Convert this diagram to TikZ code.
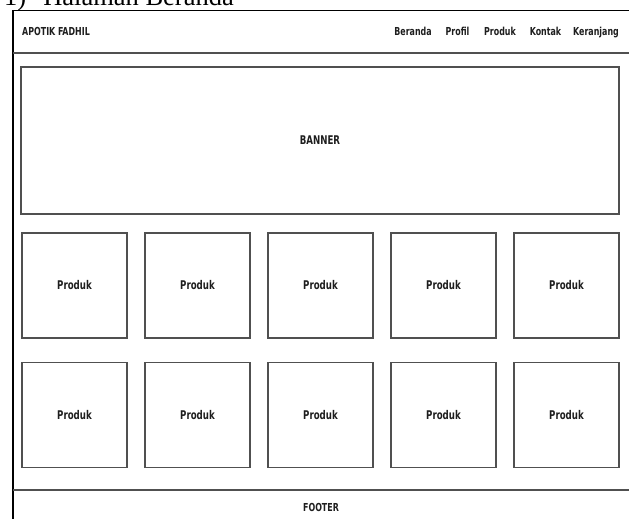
\documentclass[tikz,border=0pt]{standalone}
\usepackage{fontspec}
\setmainfont{DejaVu Sans Condensed}
\newfontfamily\lblfont{DejaVu Sans Condensed}[FakeStretch=0.8]
\newfontfamily\titlefont{Liberation Serif}
\definecolor{boxgray}{HTML}{505050}
\definecolor{txt}{HTML}{1E1E1E}
\begin{document}
\begin{tikzpicture}[x=1pt,y=-1pt,
  lbl/.style={text=txt, inner sep=0pt, font=\lblfont\bfseries\fontsize{11}{13}\selectfont},
  box/.style={draw=boxgray, line width=1.6pt, minimum width=105pt, minimum height=105pt, inner sep=0pt, text=txt, font=\lblfont\bfseries\fontsize{12}{14}\selectfont},
  sep/.style={draw=boxgray, line width=1.6pt},
  frameline/.style={draw=black, line width=1.3pt}]
\useasboundingbox (0,0) rectangle (629,519);
\clip (0,0) rectangle (629,519);
% title (partly cut off, as in the reference)
\node[anchor=base west, inner sep=0pt, font=\titlefont\fontsize{26.5}{30}\selectfont] (title) at (4,6) {1)\hspace{17pt}Halaman Beranda};
% outer frame
\coordinate (ftl) at (13,10.5);
\coordinate (fbr) at (650,540);
\draw[frameline] (ftl) rectangle (fbr);
% header separator
\coordinate (h1) at (13,53);
\coordinate (h2) at (650,53);
\draw[sep] (h1) -- (h2);
% header texts
\node[lbl, anchor=base west] (brand) at (22,36) {APOTIK FADHIL};
\node[lbl, anchor=base] (nav1) at (413,36) {Beranda};
\node[lbl, anchor=base] (nav2) at (457.5,36) {Profil};
\node[lbl, anchor=base] (nav3) at (500,36) {Produk};
\node[lbl, anchor=base] (nav4) at (545.5,36) {Kontak};
\node[lbl, anchor=base east] (nav5) at (619,36) {Keranjang};
% banner
\node[box, minimum width=598pt, minimum height=147pt] (banner) at (320,140.5) {BANNER};
% products
\foreach \i/\x in {1/74.5,2/197.5,3/320.5,4/443.5,5/566.5}{
  \node[box] (pa\i) at (\x,285.5) {Produk};
  \node[box] (pb\i) at (\x,415) {Produk};
}
% footer
\coordinate (f1) at (13,490);
\coordinate (f2) at (650,490);
\draw[sep] (f1) -- (f2);
\node[lbl, anchor=base] (footer) at (321,511) {FOOTER};
\end{tikzpicture}
\end{document}
